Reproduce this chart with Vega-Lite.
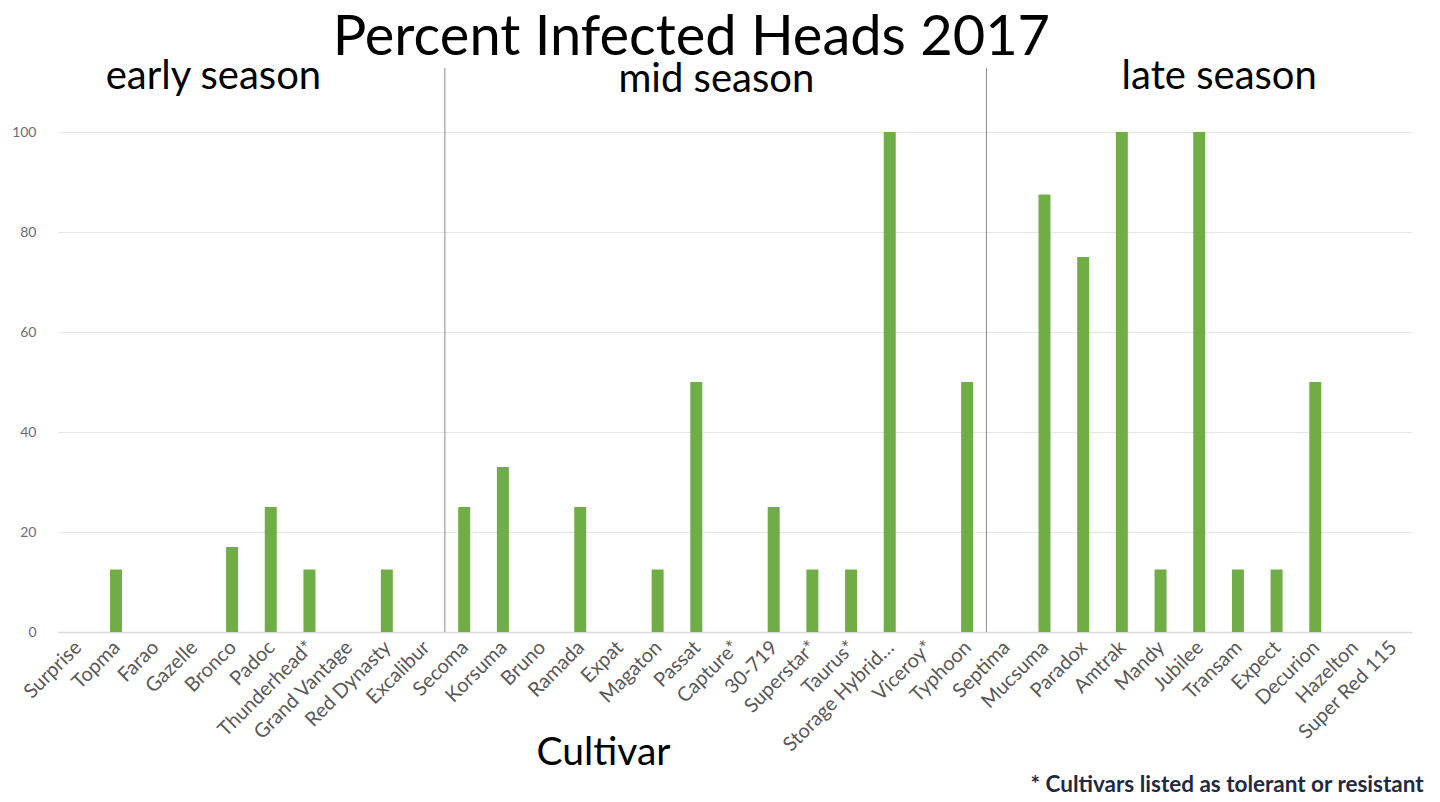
{
  "$schema": "https://vega.github.io/schema/vega-lite/v6.json",
  "autosize": {"type": "none"},
  "width": 1354,
  "height": 500,
  "padding": {"left": 58, "top": 132, "right": 28, "bottom": 170},
  "background": "white",
  "title": {
    "text": "Percent Infected Heads 2017",
    "font": "Lato",
    "fontSize": 56,
    "fontWeight": "normal",
    "color": "#000000",
    "anchor": "start",
    "dx": 321,
    "offset": -10
  },
  "config": {
    "view": {"stroke": null},
    "font": "Lato"
  },
  "datasets": {
    "bars": [
      {"cultivar": "Surprise", "pct": 0},
      {"cultivar": "Topma", "pct": 12.5},
      {"cultivar": "Farao", "pct": 0},
      {"cultivar": "Gazelle", "pct": 0},
      {"cultivar": "Bronco", "pct": 17},
      {"cultivar": "Padoc", "pct": 25},
      {"cultivar": "Thunderhead*", "pct": 12.5},
      {"cultivar": "Grand Vantage", "pct": 0},
      {"cultivar": "Red Dynasty", "pct": 12.5},
      {"cultivar": "Excalibur", "pct": 0},
      {"cultivar": "Secoma", "pct": 25},
      {"cultivar": "Korsuma", "pct": 33},
      {"cultivar": "Bruno", "pct": 0},
      {"cultivar": "Ramada", "pct": 25},
      {"cultivar": "Expat", "pct": 0},
      {"cultivar": "Magaton", "pct": 12.5},
      {"cultivar": "Passat", "pct": 50},
      {"cultivar": "Capture*", "pct": 0},
      {"cultivar": "30-719", "pct": 25},
      {"cultivar": "Superstar*", "pct": 12.5},
      {"cultivar": "Taurus*", "pct": 12.5},
      {"cultivar": "Storage Hybrid…", "pct": 100},
      {"cultivar": "Viceroy*", "pct": 0},
      {"cultivar": "Typhoon", "pct": 50},
      {"cultivar": "Septima", "pct": 0},
      {"cultivar": "Mucsuma", "pct": 87.5},
      {"cultivar": "Paradox", "pct": 75},
      {"cultivar": "Amtrak", "pct": 100},
      {"cultivar": "Mandy", "pct": 12.5},
      {"cultivar": "Jubilee", "pct": 100},
      {"cultivar": "Transam", "pct": 12.5},
      {"cultivar": "Expect", "pct": 12.5},
      {"cultivar": "Decurion", "pct": 50},
      {"cultivar": "Hazelton", "pct": 0},
      {"cultivar": "Super Red 115", "pct": 0}
    ],
    "dividers": [
      {"cultivar": "Secoma", "lo": 0, "hi": 112.8},
      {"cultivar": "Septima", "lo": 0, "hi": 112.8}
    ],
    "seasons": [
      {"cultivar": "Gazelle", "label": "early season", "ly": 111},
      {"cultivar": "Passat", "label": "mid season", "ly": 110.4},
      {"cultivar": "Jubilee", "label": "late season", "ly": 111}
    ],
    "notes": [
      {"cultivar": "Super Red 115", "label": "* Cultivars listed as tolerant or resistant", "ly": -30.6}
    ]
  },
  "encoding": {
    "x": {
      "field": "cultivar",
      "type": "nominal",
      "sort": null,
      "scale": {
        "domain": ["Surprise","Topma","Farao","Gazelle","Bronco","Padoc","Thunderhead*","Grand Vantage","Red Dynasty","Excalibur","Secoma","Korsuma","Bruno","Ramada","Expat","Magaton","Passat","Capture*","30-719","Superstar*","Taurus*","Storage Hybrid…","Viceroy*","Typhoon","Septima","Mucsuma","Paradox","Amtrak","Mandy","Jubilee","Transam","Expect","Decurion","Hazelton","Super Red 115"],
        "paddingInner": 0.69,
        "paddingOuter": 0.345
      },
      "axis": {
        "title": "Cultivar",
        "titleFont": "Lato",
        "titleFontSize": 39,
        "titleFontWeight": "normal",
        "titleColor": "#000000",
        "titleX": 545,
        "titleY": 120,
        "titleBaseline": "middle",
        "labelAngle": -45,
        "labelFontSize": 20,
        "labelColor": "#595959",
        "labelPadding": 5,
        "labelOffset": -6,
        "labelLimit": 220,
        "ticks": false,
        "domainColor": "#d9d9d9",
        "domainWidth": 1.5,
        "grid": false
      }
    }
  },
  "layer": [
    {
      "data": {"name": "bars"},
      "mark": {"type": "bar", "color": "#70AD47"},
      "encoding": {
        "y": {
          "field": "pct",
          "type": "quantitative",
          "scale": {"domain": [0, 100], "nice": false},
          "axis": {
            "title": null,
            "values": [0, 20, 40, 60, 80, 100],
            "labelFontSize": 14,
            "labelColor": "#6b6b78",
            "labelPadding": 22,
            "ticks": false,
            "domain": false,
            "gridColor": "#e6e6e6",
            "gridWidth": 1.2
          }
        }
      }
    },
    {
      "data": {"name": "dividers"},
      "mark": {"type": "rule", "color": "#8c8c8c", "strokeWidth": 1, "xOffset": -19.35},
      "encoding": {
        "y": {"field": "lo", "type": "quantitative"},
        "y2": {"field": "hi"}
      }
    },
    {
      "data": {"name": "seasons"},
      "mark": {"type": "text", "font": "Lato", "fontSize": 40, "color": "#000000", "align": "center", "baseline": "middle", "dx": 20},
      "encoding": {
        "y": {"field": "ly", "type": "quantitative"},
        "text": {"field": "label"}
      }
    },
    {
      "data": {"name": "notes"},
      "mark": {"type": "text", "font": "Lato", "fontSize": 22.5, "fontWeight": "bold", "color": "#1f2a44", "align": "right", "baseline": "middle", "dx": 31},
      "encoding": {
        "y": {"field": "ly", "type": "quantitative"},
        "text": {"field": "label"}
      }
    }
  ]
}
